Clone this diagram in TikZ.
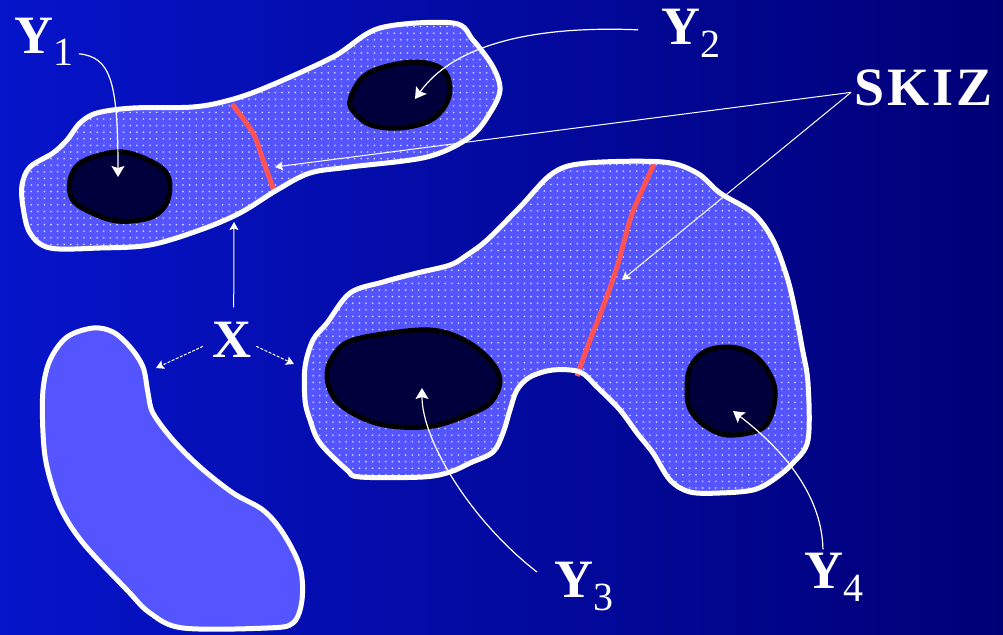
\documentclass[tikz,border=0pt]{standalone}
\usepackage{fontspec}
\setmainfont{Liberation Serif}
\usetikzlibrary{arrows.meta}
\definecolor{skzbgl}{HTML}{0614CA}
\definecolor{skzbgm}{HTML}{0000A6}
\definecolor{skzbgr}{HTML}{000076}
\definecolor{skzfill}{HTML}{5555FF}
\definecolor{skzdot}{HTML}{DCDCFF}
\definecolor{skzdark}{HTML}{00003C}
\definecolor{skzred}{HTML}{FF5252}
\tikzset{
  skzzone/.style={fill=skzfill},
  skzdotrow/.style={draw=skzdot, line width=1.8pt, line cap=round, dash pattern=on 0pt off 6.6pt},
  skzrim/.style={draw=white, line width=5pt, line join=round},
  skzseed/.style={draw=black, line width=5pt, fill=skzdark, line join=round},
  skizline/.style={draw=skzred, line width=5pt},
  skzlbl/.style={font=\fontsize{54}{54}\selectfont\bfseries, text=white, inner sep=0pt, anchor=base west},
  skzarr/.style={draw=white!92, line width=1.2pt, -{Stealth[length=11pt,width=13pt,inset=2pt]}},
  skzthin/.style={draw=white!85, line width=1pt, -{Stealth[length=8pt,width=9pt,inset=1.5pt]}},
  skzdash/.style={skzthin, dash pattern=on 3pt off 1.5pt},
}
\newcommand{\ysub}[1]{Y\kern0.5pt\raisebox{-13pt}{\fontsize{40}{40}\selectfont\mdseries #1}}

\begin{document}
\begin{tikzpicture}[x=1pt, y=-1pt]
  \useasboundingbox (0,0) rectangle (1003,634);
  % background
  \shade[left color=skzbgl, middle color=skzbgm, right color=skzbgr] (0,0) rectangle (1003,634);

  % zones
  \path[save path=\pathtop] plot[smooth cycle, tension=0.55] coordinates {
    (22,185) (30,167) (53,153) (67,140) (80,123) (97,113) (133,108) (193,107)
    (230,100) (267,87) (333,57) (380,28) (453,23) (473,40) (493,67) (500,90)
    (490,113) (470,137) (427,157) (350,167) (310,173) (277,190) (240,213)
    (200,230) (150,245) (100,248) (50,248) (30,233) (23,207)};
  \path[save path=\pathbig] plot[smooth cycle, tension=0.55] coordinates {
    (313,340) (327,323) (350,293) (383,282) (417,273) (450,265) (467,255)
    (487,240) (520,207) (553,173) (587,163) (663,162) (697,173) (720,193)
    (753,213) (773,240) (787,277) (795,310) (802,347) (808,383) (808,440)
    (793,463) (773,480) (753,490) (720,493) (690,492) (670,480) (653,453)
    (637,433) (620,410) (597,387) (580,372) (553,370) (530,377) (517,390)
    (510,410) (503,433) (493,452) (470,463) (450,472) (423,477) (360,477)
    (347,470) (320,443) (310,420) (305,400) (305,367)};
  \path[skzzone, use path=\pathtop];
  \path[skzzone, use path=\pathbig];

  % dot texture
  \begin{scope}
    \clip[use path=\pathtop];
    \foreach \yy in {20,26.6,...,252}
      \draw[skzdotrow] (18,\yy) -- (506,\yy);
  \end{scope}
  \begin{scope}
    \clip[use path=\pathbig];
    \foreach \yy in {158,164.6,...,500}
      \draw[skzdotrow] (300,\yy) -- (812,\yy);
  \end{scope}

  % skiz lines
  \draw[skizline] plot[smooth] coordinates {(232,104) (253,133) (263,160) (274,191)};
  \draw[skizline] plot[smooth] coordinates {(654,164) (640,195) (630,220) (617,267) (603,307) (590,340) (577,376)};

  \path[skzrim, use path=\pathtop];
  \path[skzrim, use path=\pathbig];

  % lone zone X
  \draw[skzrim, fill=skzfill] plot[smooth cycle, tension=0.55] coordinates {
    (43,390) (50,360) (67,337) (93,328) (113,332) (130,347) (143,367) (148,393)
    (153,413) (173,440) (200,467) (233,493) (263,510) (283,533) (300,567)
    (302,600) (293,623) (267,628) (183,628) (150,613) (127,590) (83,543)
    (60,507) (47,467) (43,433)};

  % seeds
  \draw[skzseed] plot[smooth cycle, tension=0.6] coordinates {
    (70,180) (79,164) (100,155) (123,152) (146,159) (165,171) (170,187)
    (165,206) (149,218) (117,221) (88,211) (72,199)};
  \draw[skzseed] plot[smooth cycle, tension=0.6] coordinates {
    (350,100) (362,78) (384,67) (417,62) (442,69) (450,87) (445,106)
    (429,121) (400,128) (371,125) (354,112)};
  \draw[skzseed] plot[smooth cycle, tension=0.6] coordinates {
    (327,377) (332,358) (348,342) (383,334) (430,330) (462,339) (488,358)
    (500,380) (491,402) (472,413) (433,426) (390,426) (358,416) (335,399)};
  \draw[skzseed] plot[smooth cycle, tension=0.6] coordinates {
    (687,390) (690,368) (704,352) (727,347) (749,352) (766,368) (775,390)
    (771,416) (759,430) (727,435) (704,425) (690,409)};

  % labels
  \node[skzlbl] (y1) at (14,53) {\ysub{1}};
  \node[skzlbl] (y2) at (661,45) {\ysub{2}};
  \node[skzlbl] (y3) at (554,597) {\ysub{3}};
  \node[skzlbl] (y4) at (804,588) {\ysub{4}};
  \node[skzlbl] (x) at (212,357) {X};
  \node[skzlbl] (skiz) at (854,105) {S\kern3pt K\kern3pt I\kern3pt Z};

  % pointer tips
  \coordinate (t1) at (118,177);
  \coordinate (t2) at (415,99);
  \coordinate (t3) at (422,388);
  \coordinate (t4) at (733,411);
  \coordinate (ts1) at (275,167);
  \coordinate (ts2) at (622,280);
  \coordinate (tx1) at (234,222);
  \coordinate (tx2) at (156,368);
  \coordinate (tx3) at (294,364);

  % pointers
  \draw[skzarr] ([shift={(5,12)}]y1.east) .. controls (110,57) and (118,80) .. (t1);
  \draw[skzarr] ([shift={(-23,-4)}]y2.west) .. controls (520,25) and (450,50) .. (t2);
  \draw[skzarr] ([shift={(-17,-14)}]y3.west) .. controls (470,520) and (422,440) .. (t3);
  \draw[skzarr] ([shift={(-11,-3)}]y4.north) .. controls (822,500) and (790,455) .. (t4);
  \draw[skzthin] ([shift={(-3,5)}]skiz.west) -- (ts1);
  \draw[skzthin] ([shift={(-3,5)}]skiz.west) -- (ts2);
  \draw[skzthin] ([shift={(2,-14)}]x.north) -- (tx1);
  \draw[skzdash] ([shift={(-9,7)}]x.west) -- (tx2);
  \draw[skzdash] ([shift={(5,7)}]x.east) -- (tx3);
\end{tikzpicture}
\end{document}
